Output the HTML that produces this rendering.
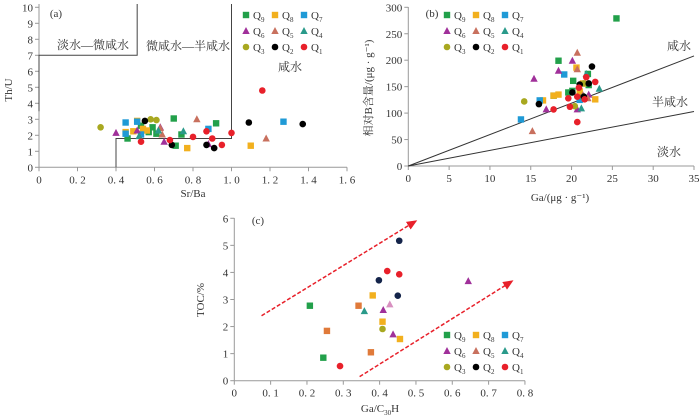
<!DOCTYPE html>
<html><head><meta charset="utf-8"><style>
html,body{margin:0;padding:0;background:#fff;}
svg{display:block;font-family:"Liberation Serif","Noto Serif CJK SC",serif;}
</style></head><body>
<svg id="chart" width="700" height="420" viewBox="0 0 700 420" xmlns="http://www.w3.org/2000/svg"></svg>
<script>
// ---- Panel (a) data: Sr/Ba vs Th/U
const aQ9x=[0.46,0.53,0.59,0.61,0.57,0.70,0.71,0.74,0.92], aQ9y=[1.8,2.6,2.5,2.1,2.2,3.05,1.35,2.05,2.75];
const aQ8x=[0.45,0.49,0.51,0.54,0.56,0.77,1.10], aQ8y=[2.2,2.25,2.9,2.4,2.3,1.2,1.35];
const aQ7x=[0.45,0.45,0.51,0.53,0.88,1.27], aQ7y=[2.8,2.1,2.85,2.05,2.4,2.85];
const aQ6x=[0.40,0.51,0.63,0.65,0.88], aQ6y=[2.15,2.3,2.5,1.6,1.45];
const aQ5x=[0.64,0.63,0.82,1.18], aQ5y=[2.05,2.45,3.0,1.8];
const aQ4x=[0.52,0.62,0.75], aQ4y=[1.95,2.3,2.25];
const aQ3x=[0.32,0.58,0.61], aQ3y=[2.5,3.0,2.95];
const aQ2x=[0.55,0.69,0.87,0.91,1.09,1.37], aQ2y=[2.9,1.4,1.4,1.2,2.8,2.7];
const aQ1x=[0.53,0.68,0.80,0.87,0.90,0.95,1.00,1.16], aQ1y=[1.6,1.7,1.9,2.25,1.8,1.4,2.15,4.8];
const aXTicks=[0,0.2,0.4,0.6,0.8,1.0,1.2,1.4,1.6], aXLabels=["0","0. 2","0. 4","0. 6","0. 8","1. 0","1. 2","1. 4","1. 6"];
const aYTicks=[0,1,2,3,4,5,6,7,8,9,10];
// ---- Panel (b) data: Ga vs B
const bQ9x=[25.5,18.4,20.2,19.6,20.1,17.8,22,22.1,21.2], bQ9y=[279,199,161,139,142,133,174,153,132];
const bQ8x=[18.4,17.8,16.5,20.6,21,22.9,21.4], bQ8y=[135,133,124,186,141,126,156];
const bQ7x=[19.1,16.1,13.8,21], bQ7y=[173,124,88,125];
const bQ6x=[15.4,18.4,20.1,20.7,22.1,16.9], bQ6y=[165,180,199,107,135,107];
const bQ5x=[20.7,20.7,15.2,21.4,22], bQ5y=[214,183,66,134,128];
const bQ4x=[21.8,23.4,21.2,21.4], bQ4y=[174,146,109,131];
const bQ3x=[14.2,21.5,20.4], bQ3y=[122,156,113];
const bQ2x=[16,20.1,21,22.1,22.5,21.5], bQ2y=[117,139,154,156,188,131];
const bQ1x=[21.8,22.9,19.6,19.8,20.7,20.9,20.7,21.6,17.8], bQ1y=[168,159,128,112,131,148,83,126,107];
const bXTicks=[0,5,10,15,20,25,30,35], bYTicks=[0,50,100,150,200,250,300];
const bLineSlopes=[208/35,103/35];
// ---- Panel (c) data: Ga/C30H vs TOC
const cQ9x=[0.208,0.245], cQ9y=[2.77,0.85];
const cQ8x=[0.381,0.408,0.456], cQ8y=[3.15,2.18,1.54];
const cQ8bx=[0.342,0.255,0.376], cQ8by=[2.77,1.84,1.05];
const cQ6x=[0.41,0.437,0.644], cQ6y=[2.61,1.71,3.68];
const cQ5x=[0.428], cQ5y=[2.82];
const cQ4x=[0.358], cQ4y=[2.57];
const cQ3x=[0.408], cQ3y=[1.91];
const cQ2x=[0.454,0.398,0.45], cQ2y=[5.17,3.71,3.14];
const cQ1x=[0.421,0.454,0.291], cQ1y=[4.05,3.93,0.54];
const cXTicks=[0,0.1,0.2,0.3,0.4,0.5,0.6,0.7,0.8], cXLabels=["0","0. 1","0. 2","0. 3","0. 4","0. 5","0. 6","0. 7","0. 8"];
const cYTicks=[0,1,2,3,4,5,6];

const C={q9:"#22a04a",q8:"#f2b01e",q7:"#1f9ad6",q6:"#a0309a",q5:"#c8705e",q4:"#2a9a8a",q3:"#a8a820",q2:"#000",q1:"#e8202a",q8b:"#e07a3a",q2c:"#14244a",q5c:"#d890c0"};
const NS="http://www.w3.org/2000/svg", svg=document.getElementById("chart");
function mk(tag,attrs,parent,txt){const e=document.createElementNS(NS,tag);for(const k in attrs)e.setAttribute(k,attrs[k]);if(txt!==undefined)e.textContent=txt;(parent||svg).appendChild(e);return e;}
function marker(shape,cx,cy,color,name){let e;
 if(shape==="s")e=mk("rect",{x:cx-3.2,y:cy-3.2,width:6.4,height:6.4,fill:color});
 else if(shape==="t")e=mk("polygon",{points:`${cx},${cy-4} ${cx-3.7},${cy+3} ${cx+3.7},${cy+3}`,fill:color});
 else e=mk("circle",{cx:cx,cy:cy,r:3.3,fill:color});
 
 
 return e;}
function axes(p,xt,xl,yt,yl){
 const ax=mk("line",{x1:p.x0,y1:p.y0,x2:p.x1,y2:p.y0,stroke:"#999","stroke-width":1});
 
 
 const ay=mk("line",{x1:p.x0,y1:p.y0,x2:p.x0,y2:p.y1,stroke:"#999","stroke-width":1});
 
 
 xt.forEach((v,i)=>{const x=p.sx(v);
  mk("line",{x1:x,y1:p.y0,x2:x,y2:p.y0+4,stroke:"#999"});
  const t=mk("text",{x:x,y:p.y0+16,"font-size":11,fill:"#333","text-anchor":"middle"},svg,xl?xl[i]:String(v));
  
  });
 yt.forEach((v,i)=>{const y=p.sy(v);
  mk("line",{x1:p.x0-4,y1:y,x2:p.x0,y2:y,stroke:"#999"});
  const t=mk("text",{x:p.x0-6,y:y+4,"font-size":11,fill:"#333","text-anchor":"end"},svg,yl?yl[i]:String(v));
  
  });}
function series(p,xs,ys,shape,color,name){xs.forEach((x,i)=>marker(shape,p.sx(x),p.sy(ys[i]),color,name));}
function legend(x,y,id){
 const items=[["s",C.q9,"9"],["s",C.q8,"8"],["s",C.q7,"7"],["t",C.q6,"6"],["t",C.q5,"5"],["t",C.q4,"4"],["c",C.q3,"3"],["c",C.q2,"2"],["c",C.q1,"1"]];
 items.forEach((it,i)=>{const cx=x+(i%3)*29, cy=y+Math.floor(i/3)*16;
  marker(it[0],cx,cy,it[1],id+'-legend-marker');
  const t=mk("text",{x:cx+7,y:cy+4,"font-size":11,fill:"#333"});
  
  
  mk("tspan",{},t,"Q");mk("tspan",{"font-size":7,dy:3},t,it[2]);});}
function label(x,y,txt,name,opts){const t=mk("text",Object.assign({x:x,y:y,"font-size":11,fill:"#333","text-anchor":"middle"},opts||{}),svg,txt);
 
 return t;}

// Panel a
const A={id:"panel-a",x0:39,x1:347,y0:167.3,y1:4,sx:v=>39+v*192.5,sy:v=>167.3-v*16};
axes(A,aXTicks,aXLabels,aYTicks);
const boxA=mk("polyline",{points:`${A.sx(0)},${A.sy(3.5)} ${A.sx(0)},${A.sy(7)} ${A.sx(0.51)},${A.sy(7)} ${A.sx(0.51)},${A.y1}`,fill:"none",stroke:"#444","stroke-width":1});


const boxB=mk("polyline",{points:`${A.sx(0.4)},${A.sy(0)} ${A.sx(0.4)},${A.sy(1.8)} ${A.sx(1.0)},${A.sy(1.8)} ${A.sx(1.0)},${A.y1}`,fill:"none",stroke:"#444","stroke-width":1});


label(56,17,"(a)","panel-a-tag",{"font-size":11});
label(93,49,"淡水—微咸水","zone-fresh-label",{"font-size":12});
label(188,50,"微咸水—半咸水","zone-brackish-label",{"font-size":12});
label(290,71,"咸水","zone-saline-label",{"font-size":12});
label(193,197,"Sr/Ba","panel-a-x-title");
label(12,90,"Th/U","panel-a-y-title",{transform:"rotate(-90 12 90)"});
series(A,aQ9x,aQ9y,"s",C.q9,"a-q9-point");series(A,aQ8x,aQ8y,"s",C.q8,"a-q8-point");series(A,aQ7x,aQ7y,"s",C.q7,"a-q7-point");
series(A,aQ6x,aQ6y,"t",C.q6,"a-q6-point");series(A,aQ5x,aQ5y,"t",C.q5,"a-q5-point");series(A,aQ4x,aQ4y,"t",C.q4,"a-q4-point");
series(A,aQ3x,aQ3y,"c",C.q3,"a-q3-point");series(A,aQ2x,aQ2y,"c",C.q2,"a-q2-point");series(A,aQ1x,aQ1y,"c",C.q1,"a-q1-point");
legend(246,15,"panel-a");

// Panel b
const B={id:"panel-b",x0:408.3,x1:694,y0:166,y1:7,sx:v=>408.3+v*8.163,sy:v=>166-v*0.529};
axes(B,bXTicks,null,bYTicks);
bLineSlopes.forEach((s,i)=>{const l=mk("line",{x1:B.sx(0),y1:B.sy(0),x2:B.sx(35),y2:B.sy(35*s),stroke:"#333","stroke-width":1});
 
 });
label(432,17,"(b)","panel-b-tag");
label(679,50,"咸水","zone-saline-label-b",{"font-size":12});
label(670,106,"半咸水","zone-brackish-label-b",{"font-size":12});
label(669,156,"淡水","zone-fresh-label-b",{"font-size":12});
label(560,201,"Ga/(μg · g⁻¹)","panel-b-x-title");
label(372,88,"相对B含量/(μg · g⁻¹)","panel-b-y-title",{transform:"rotate(-90 372 88)"});
series(B,bQ9x,bQ9y,"s",C.q9,"b-q9-point");series(B,bQ8x,bQ8y,"s",C.q8,"b-q8-point");series(B,bQ7x,bQ7y,"s",C.q7,"b-q7-point");
series(B,bQ6x,bQ6y,"t",C.q6,"b-q6-point");series(B,bQ5x,bQ5y,"t",C.q5,"b-q5-point");series(B,bQ4x,bQ4y,"t",C.q4,"b-q4-point");
series(B,bQ3x,bQ3y,"c",C.q3,"b-q3-point");series(B,bQ2x,bQ2y,"c",C.q2,"b-q2-point");series(B,bQ1x,bQ1y,"c",C.q1,"b-q1-point");
legend(447,15,"panel-b");

// Panel c
const P={id:"panel-c",x0:234.3,x1:525,y0:380.7,y1:218,sx:v=>234.3+v*363.3,sy:v=>380.7-v*27.07};
axes(P,cXTicks,cXLabels,cYTicks);
mk("defs",{}).innerHTML='<marker id="ah" markerWidth="8" markerHeight="8" refX="6" refY="3" orient="auto"><path d="M0,0 L7,3 L0,6 z" fill="#e8202a"/></marker>';
[[0.075,2.4,0.5,5.9],[0.345,0.15,0.765,3.68]].forEach((a,i)=>{const l=mk("line",{x1:P.sx(a[0]),y1:P.sy(a[1]),x2:P.sx(a[2]),y2:P.sy(a[3]),stroke:"#e8202a","stroke-width":1.5,"stroke-dasharray":"4 2","marker-end":"url(#ah)"});
 
 });
label(258,224,"(c)","panel-c-tag");
label(380,412,"Ga/C","panel-c-x-title").innerHTML='Ga/C<tspan font-size="7" dy="3">30</tspan><tspan dy="-3">H</tspan>';
label(204,300,"TOC/%","panel-c-y-title",{transform:"rotate(-90 204 300)"});
series(P,cQ9x,cQ9y,"s",C.q9,"c-q9-point");series(P,cQ8x,cQ8y,"s",C.q8,"c-q8-point");series(P,cQ8bx,cQ8by,"s",C.q8b,"c-q8-orange-point");
series(P,cQ6x,cQ6y,"t",C.q6,"c-q6-point");series(P,cQ5x,cQ5y,"t",C.q5c,"c-q5-point");series(P,cQ4x,cQ4y,"t",C.q4,"c-q4-point");
series(P,cQ3x,cQ3y,"c",C.q3,"c-q3-point");series(P,cQ2x,cQ2y,"c",C.q2c,"c-q2-point");series(P,cQ1x,cQ1y,"c",C.q1,"c-q1-point");
legend(447,335,"panel-c");
</script>
</body></html>
